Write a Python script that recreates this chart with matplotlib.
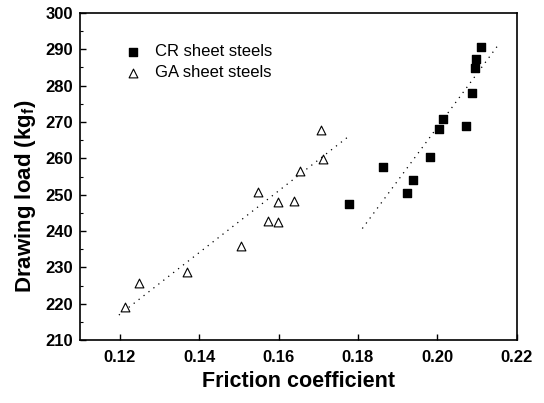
import matplotlib
matplotlib.use("Agg")
import matplotlib.pyplot as plt
from matplotlib.ticker import MultipleLocator

plt.rcParams['font.family'] = ['Liberation Sans', 'DejaVu Sans']

# CR sheet steels (filled squares)
cr_mu = [0.1778, 0.1863, 0.1923, 0.1938, 0.1981, 0.2005, 0.2013, 0.2071, 0.2087, 0.2096, 0.2097, 0.2109]
cr_load = [247.4, 257.6, 250.6, 254.1, 260.5, 268.1, 270.8, 269.0, 278.0, 284.9, 287.2, 290.6]

# GA sheet steels (open triangles)
ga_mu = [0.1214, 0.1248, 0.1370, 0.1505, 0.1549, 0.1573, 0.1599, 0.1599, 0.1638, 0.1655, 0.1713, 0.1707]
ga_load = [219.2, 225.6, 228.8, 236.0, 250.7, 242.8, 242.4, 248.0, 248.2, 256.5, 259.7, 267.8]

# dotted fit lines (end points)
cr_fit_mu = [0.1811, 0.2150]
cr_fit_load = [240.7, 290.7]
ga_fit_mu = [0.1198, 0.1775]
ga_fit_load = [216.9, 265.9]

fig = plt.figure(figsize=(5.44, 4.03), dpi=100)
ax = fig.add_axes([0.147, 0.156, 0.803, 0.812])

ax.plot(cr_fit_mu, cr_fit_load, color='black', linestyle=(0, (1, 4)), linewidth=0.9)
ax.plot(ga_fit_mu, ga_fit_load, color='black', linestyle=(0, (1, 4)), linewidth=0.9)
ax.scatter(cr_mu, cr_load, marker='s', s=30, color='black', label='CR sheet steels', zorder=3)
ax.scatter(ga_mu, ga_load, marker='^', s=40, facecolor='white', edgecolor='black',
           linewidth=0.8, label='GA sheet steels', zorder=3)

ax.set_xlim(0.11, 0.22)
ax.set_ylim(210, 300)
ax.yaxis.set_major_locator(MultipleLocator(10))
ax.yaxis.set_minor_locator(MultipleLocator(5))
ax.set_xticks([0.12, 0.14, 0.16, 0.18, 0.20, 0.22])
ax.set_xticklabels(['0.12', '0.14', '0.16', '0.18', '0.20', '0.22'])
ax.tick_params(direction='in', which='major', length=4, width=1, labelsize=12, top=False, right=False)
ax.tick_params(axis='x', pad=7)
ax.tick_params(axis='y', pad=5)
ax.tick_params(direction='in', which='minor', length=2, width=0.8, top=False, right=False)
for lab in ax.get_xticklabels() + ax.get_yticklabels():
    lab.set_fontweight('bold')
for sp in ax.spines.values():
    sp.set_linewidth(1.2)

ax.set_xlabel('Friction coefficient', fontsize=15.5, fontweight='bold')
ax.xaxis.set_label_coords(0.5, -0.095)
ax.set_ylabel('Drawing load (kg$_\\mathregular{f}$)', fontsize=16, fontweight='bold')
ax.yaxis.set_label_coords(-0.097, 0.44)

ax.legend(loc='upper left', bbox_to_anchor=(0.067, 0.925), frameon=False, fontsize=12,
          handletextpad=0.35, labelspacing=0.35, borderaxespad=0)

fig.savefig('out.png', dpi=100)
